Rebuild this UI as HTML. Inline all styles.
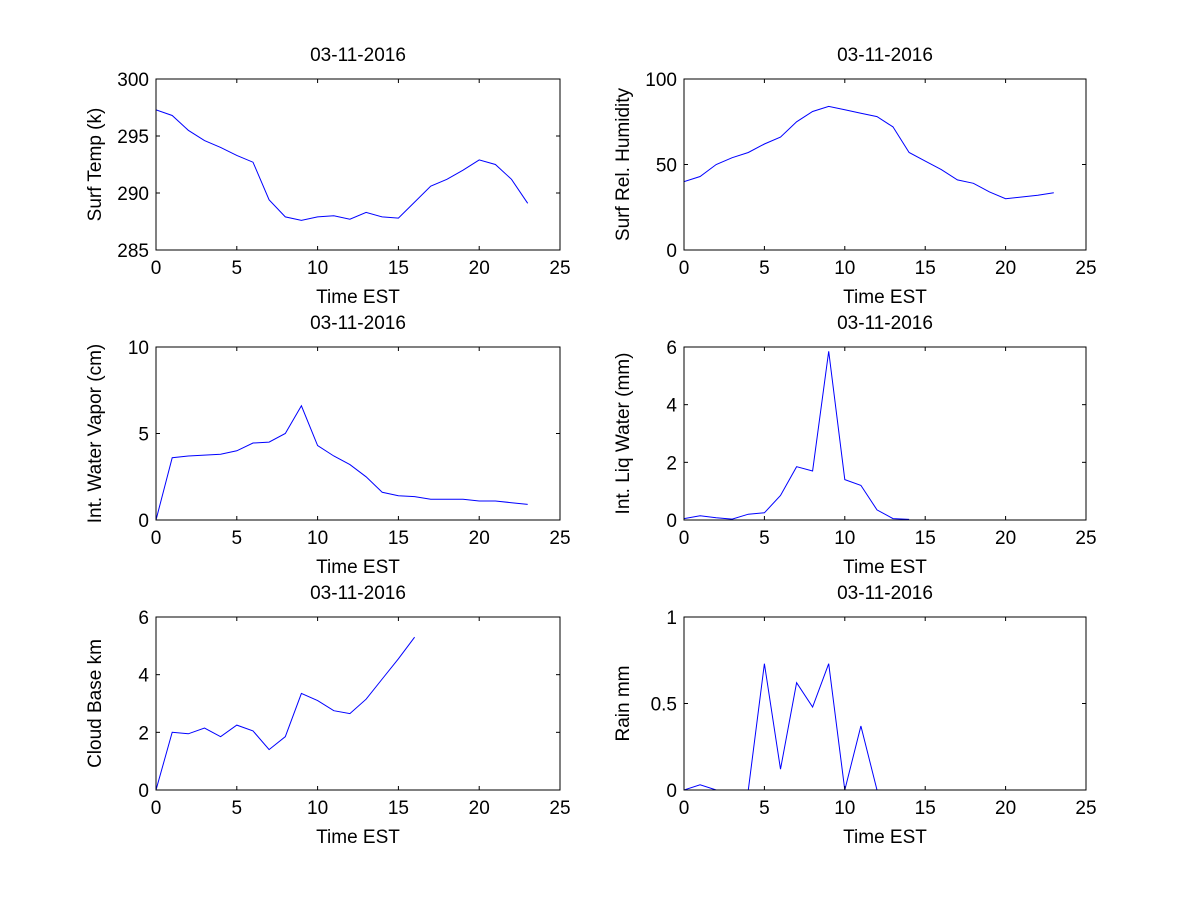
<!DOCTYPE html>
<html><head><meta charset="utf-8"><style>
body{margin:0;background:#fff}
svg{display:block;font-family:"Liberation Sans",sans-serif}
</style></head><body>
<svg id="fig" width="1200" height="900"></svg>
<script>
const hours=[0,1,2,3,4,5,6,7,8,9,10,11,12,13,14,15,16,17,18,19,20,21,22,23];
const surfTemp=[297.3,296.8,295.5,294.6,294,293.3,292.7,289.4,287.9,287.6,287.9,288.0,287.7,288.3,287.9,287.8,289.2,290.6,291.2,292.0,292.9,292.5,291.2,289.1];
const relHum=[40,43,50,54,57,62,66,75,81,84,82,80,78,72,57,52,47,41,39,34,30,31,32,33.5];
const waterVapor=[0,3.6,3.7,3.75,3.8,4.0,4.45,4.5,5.0,6.6,4.3,3.7,3.2,2.5,1.6,1.4,1.35,1.2,1.2,1.2,1.1,1.1,1.0,0.9];
const liqWater=[0.05,0.15,0.08,0.03,0.2,0.25,0.85,1.85,1.7,5.85,1.4,1.2,0.35,0.05,0.02];
const cloudBase=[0,2.0,1.95,2.15,1.85,2.25,2.05,1.4,1.85,3.35,3.1,2.75,2.65,3.15,3.85,4.55,5.3];
const rain=[0,0.03,0,0,0,0.73,0.12,0.62,0.48,0.73,0,0.37,0];
const xTicks=[0,5,10,15,20,25];
const panels=[
 {name:'surf-temp',x0:156,x1:560,y0:79,y1:250,ymin:285,ymax:300,yt:[285,290,295,300],yl:'Surf Temp (k)',d:surfTemp},
 {name:'rel-humidity',x0:684,x1:1086,y0:79,y1:250,ymin:0,ymax:100,yt:[0,50,100],yl:'Surf Rel. Humidity',d:relHum},
 {name:'water-vapor',x0:156,x1:560,y0:347,y1:520,ymin:0,ymax:10,yt:[0,5,10],yl:'Int. Water Vapor (cm)',d:waterVapor},
 {name:'liq-water',x0:684,x1:1086,y0:347,y1:520,ymin:0,ymax:6,yt:[0,2,4,6],yl:'Int. Liq Water (mm)',d:liqWater},
 {name:'cloud-base',x0:156,x1:560,y0:617,y1:790,ymin:0,ymax:6,yt:[0,2,4,6],yl:'Cloud Base km',d:cloudBase},
 {name:'rain',x0:684,x1:1086,y0:617,y1:790,ymin:0,ymax:1,yt:[0,0.5,1],yl:'Rain mm',d:rain}
];
const svg=document.getElementById('fig');
const NS='http://www.w3.org/2000/svg';
function mk(t,a,p){const e=document.createElementNS(NS,t);for(const k in a)e.setAttribute(k,a[k]);(p||svg).appendChild(e);return e;}
panels.forEach(p=>{
 const g=mk('g',{});
 
 
 const sx=v=>p.x0+(v-0)/25*(p.x1-p.x0);
 const sy=v=>p.y1-(v-p.ymin)/(p.ymax-p.ymin)*(p.y1-p.y0);
 const cp='clip-'+p.name;
 const c=mk('clipPath',{id:cp},g);mk('rect',{x:p.x0,y:p.y0,width:p.x1-p.x0,height:p.y1-p.y0},c);
 const pts=p.d.map((v,i)=>sx(hours[i]).toFixed(1)+','+sy(v).toFixed(1)).join(' ');
 const line=mk('polyline',{points:pts,fill:'none',stroke:'#0000ff','stroke-width':1,'clip-path':'url(#'+cp+')'},g);
 
 
 mk('rect',{x:p.x0,y:p.y0,width:p.x1-p.x0,height:p.y1-p.y0,fill:'none',stroke:'#000','stroke-width':1},g);
 xTicks.forEach(t=>{const x=sx(t);
  mk('line',{x1:x,x2:x,y1:p.y1,y2:p.y1-4,stroke:'#000'},g);
  mk('line',{x1:x,x2:x,y1:p.y0,y2:p.y0+4,stroke:'#000'},g);
  const tx=mk('text',{x:x,y:p.y1+24,'text-anchor':'middle','font-size':19},g);tx.textContent=t;
  
  
 });
 p.yt.forEach(t=>{const y=sy(t);
  mk('line',{x1:p.x0,x2:p.x0+4,y1:y,y2:y,stroke:'#000'},g);
  mk('line',{x1:p.x1,x2:p.x1-4,y1:y,y2:y,stroke:'#000'},g);
  const tx=mk('text',{x:p.x0-7,y:y+7,'text-anchor':'end','font-size':19},g);tx.textContent=t;
  
  
 });
 const mx=(p.x0+p.x1)/2;
 const ti=mk('text',{x:mx,y:p.y0-18,'text-anchor':'middle','font-size':19},g);ti.textContent='03-11-2016';
 
 
 const xl=mk('text',{x:mx,y:p.y1+53,'text-anchor':'middle','font-size':19},g);xl.textContent='Time EST';
 
 
 const ly=(p.y0+p.y1)/2, lx=p.x0-55;
 const yl=mk('text',{x:lx,y:ly,'text-anchor':'middle','font-size':19,transform:'rotate(-90 '+lx+' '+ly+')'},g);yl.textContent=p.yl;
 
 
});
</script>
</body></html>
